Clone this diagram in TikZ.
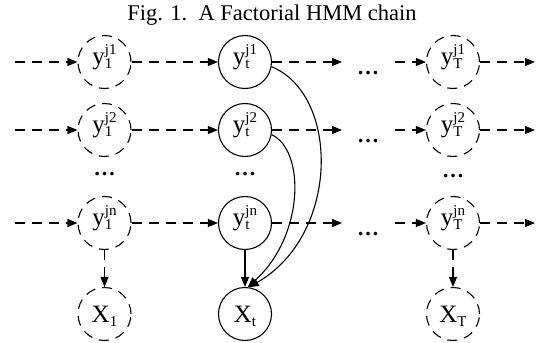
\documentclass[tikz,border=0pt]{standalone}
\usepackage{fontspec}
\setmainfont{Liberation Serif}
\usetikzlibrary{arrows.meta}
\newcommand\scr[1]{{\fontsize{15}{15}\selectfont #1}}
\newcommand\ylab[2]{y\rlap{\raisebox{-4pt}{\scr{#1}}}\raisebox{10pt}{\scr{#2}}}
\newcommand\xlab[1]{X\raisebox{-4.5pt}{\scr{#1}}}
\begin{document}
\begin{tikzpicture}[x=1pt,y=-1pt,
  st/.style={circle, draw, line width=1.1pt, minimum size=53pt, inner sep=0pt, font=\fontsize{25}{27}\selectfont},
  yl/.style={text height=14pt, text depth=10pt},
  xl/.style={text height=21pt, text depth=5pt},
  hid/.style={st, dash pattern=on 10pt off 7pt},
  dsh/.style={dash pattern=on 10pt off 7pt},
  arr/.style={-{Triangle[length=10pt,width=8pt]}, line width=1.1pt},
  dots/.style={inner sep=0pt, font=\fontsize{22}{24}\selectfont\bfseries},
  ttl/.style={font=\fontsize{22.5}{25}\selectfont}
]
\useasboundingbox (0,0) rectangle (536,343);
\node[ttl] (title) at (272,15) {Fig. 1.\ \ A Factorial HMM chain};

% column 1
\node[hid,yl] (a1) at (104.5,62) {\ylab{1}{j1}};
\node[hid,yl] (a2) at (104.5,130) {\ylab{1}{j2}};
\node[hid,yl] (an) at (104.5,223) {\ylab{1}{jn}};
\node[hid,xl] (x1) at (104.5,314) {\xlab{1}};
% column 2
\node[st,yl] (b1) at (245,62) {\ylab{t}{j1}};
\node[st,yl] (b2) at (245,130) {\ylab{t}{j2}};
\node[st,yl] (bn) at (245,223) {\ylab{t}{jn}};
\node[st,xl] (xt) at (245,314) {\xlab{t}};
% column 3
\node[hid,yl] (c1) at (453,62) {\ylab{T}{j1}};
\node[hid,yl] (c2) at (453,130) {\ylab{T}{j2}};
\node[hid,yl] (cn) at (453,223) {\ylab{T}{jn}};
\node[hid,xl] (xT) at (453,314) {\xlab{T}};

% dots
\node[dots] (da) at (104.5,174) {…};
\node[dots] (db) at (245,174) {…};
\node[dots] (dc) at (453,176) {…};
\node[dots] (r1) at (368,73) {…};
\node[dots] (r2) at (368,141) {…};
\node[dots] (rn) at (368,234) {…};

% free ends
\foreach \n/\y in {1/62,2/130,n/223}{
  \coordinate (s\n) at (15,\y);
  \coordinate (m\n) at (342,\y);
  \coordinate (q\n) at (395,\y);
  \coordinate (e\n) at (535,\y);
}
\foreach \n in {1,2,n}{
  \draw[arr,dsh] (s\n) -- (a\n);
  \draw[arr,dsh] (a\n) -- (b\n);
  \draw[arr,dsh] (b\n) -- (m\n);
  \draw[arr,dsh] (q\n) -- (c\n);
  \draw[arr,dsh] (c\n) -- (e\n);
}
\draw[arr,dsh] (an) -- (x1);
\draw[arr,dsh] (cn) -- (xT);
\draw[arr] (bn) -- (xt);
\draw[arr] (b1.-10) .. controls (340,95) and (340,235) .. (xt.82);
\draw[arr] (b2.-10) .. controls (305,150) and (305,235) .. (xt.84);
\end{tikzpicture}
\end{document}
